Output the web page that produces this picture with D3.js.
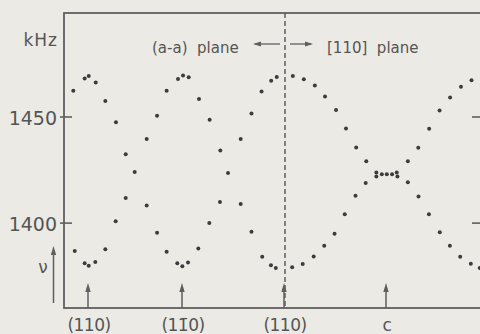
<!DOCTYPE html>
<html>
<head>
<meta charset="utf-8">
<script src="https://cdn.jsdelivr.net/npm/d3@7"></script>
<style>
  body { margin: 0; background: #ebeae5; }
  svg { display: block; font-family: "DejaVu Sans", sans-serif; }
  .lbl { fill: #555; }
</style>
</head>
<body>
<svg id="chart"></svg>
<script>
// rotation angle (deg) and NMR frequency (kHz)
var upperAngle = [-14.1,-3.2,0.7,7.4,16.6,26.8,36.1,44.7,56.2,66.1,75.3,86.2,90.9,95.9,105,114.4,123.8,130.6,141.8,151.3,160.2,168.7,173.6,
                  187.8,197.5,207.2,216.2,225.9,234.7,243.7,252.6,261.5,261.5,266.3,270.7,275.3,279.4,280.0,289.1,298.2,307.7,316.8,326,335.5,344.7];
var upperKHz = [1462.4,1468.1,1469.3,1466.2,1457.5,1447.5,1432.5,1424.1,1439.6,1450.6,1462.4,1467.9,1469.6,1468.7,1458.5,1448.7,1434.2,1423.6,1439.6,1451.6,1462.0,1467.1,1468.9,
                1469.3,1467.8,1464.8,1459.7,1453.3,1444.6,1435.6,1429.2,1423.9,1422.0,1423.0,1423.0,1423.0,1423.9,1422.0,1429.2,1435.5,1444.5,1453.1,1459.2,1464.2,1467.3];

var lowerAngle = [-12.7,-3.2,0.7,7.0,16.6,26.5,36.1,56.2,66.1,75.3,85.5,90.3,95.3,104.4,114.1,123.5,141.8,151.3,160.8,168.5,172.8,
                  187.2,196.5,206.2,215.5,224.6,233.6,243.1,252.1,289.1,298.4,307.5,317.0,325.8,334.8,344.1,351.9];
var lowerKHz = [1386.9,1381.1,1379.9,1381.7,1387.7,1400.9,1411.8,1408.3,1395.4,1386.5,1381.1,1379.7,1381.4,1388.0,1400.0,1410.0,1409.0,1395.9,1384.2,1380.1,1378.8,
                1379.2,1380.7,1384.3,1389.3,1395.0,1404.2,1412.9,1418.9,1419.2,1412.5,1404.2,1395.7,1389.3,1384.2,1380.8,1378.8];

var markerAngles = [0, 90, 180, 270];
var markerLabels = ["(110)", "(11\u03040)", "(110)", "c"];
var yTicks = [1400, 1450];
var planeBoundary = 180;

var W = 480, H = 334;
var margins = {left: 64, right: -1, top: 13, bottom: 26};

var svg = d3.select("#chart").attr("width", W).attr("height", H);

// the hand-drawn angle axis is not quite uniform, so calibrate it piecewise on the orientation arrows
var xScale = d3.scaleLinear()
    .domain([-23, 0, 90, 180, 270, 353])
    .range([margins.left, 88, 182, 284, 386, W - margins.right]);

var yScale = d3.scaleLinear()
    .domain([1360, 1499])
    .range([H - margins.bottom, margins.top]);

var ink = "#5f5f5f";
var x0 = margins.left, x1 = W - margins.right, y0 = margins.top, y1 = H - margins.bottom;

// frame
svg.append("rect")
    .attr("x", x0).attr("y", y0)
    .attr("width", x1 - x0).attr("height", y1 - y0)
    .attr("fill", "none").attr("stroke", ink).attr("stroke-width", 1.8);

// ticks, left (crossing) and right (inward)
svg.selectAll(".ltick").data(yTicks).enter().append("line")
    .attr("x1", x0 - 4).attr("x2", x0 + 8)
    .attr("y1", function(d) { return yScale(d); })
    .attr("y2", function(d) { return yScale(d); })
    .attr("stroke", ink).attr("stroke-width", 1.6);
svg.selectAll(".rtick").data(yTicks).enter().append("line")
    .attr("x1", x1 - 9).attr("x2", x1)
    .attr("y1", function(d) { return yScale(d); })
    .attr("y2", function(d) { return yScale(d); })
    .attr("stroke", ink).attr("stroke-width", 1.6);

svg.selectAll(".tlabel").data(yTicks).enter().append("text")
    .attr("class", "lbl")
    .attr("x", x0 - 7)
    .attr("y", function(d) { return yScale(d) + 8; })
    .attr("text-anchor", "end")
    .attr("font-size", 19)
    .text(function(d) { return d; });

svg.append("text").attr("class", "lbl")
    .attr("x", x0 - 6).attr("y", 46)
    .attr("text-anchor", "end").attr("font-size", 17)
    .attr("letter-spacing", 1)
    .text("kHz");

// nu with upward arrow
svg.append("text").attr("class", "lbl")
    .attr("x", 43).attr("y", 273)
    .attr("text-anchor", "middle").attr("font-size", 17)
    .text("\u03bd");
svg.append("line")
    .attr("x1", 53.5).attr("x2", 53.5).attr("y1", 303).attr("y2", 250)
    .attr("stroke", ink).attr("stroke-width", 1.5);
svg.append("path")
    .attr("d", "M53.5,246 L50.8,255 L56.2,255 Z")
    .attr("fill", ink);

// dashed plane boundary
svg.append("line")
    .attr("x1", xScale(planeBoundary) + 1).attr("x2", xScale(planeBoundary) + 1)
    .attr("y1", y0).attr("y2", y1)
    .attr("stroke", ink).attr("stroke-width", 1.5)
    .attr("stroke-dasharray", "5,3");

// orientation arrows along the bottom
var arrows = svg.selectAll(".marker").data(markerAngles).enter().append("g")
    .attr("transform", function(d) { return "translate(" + xScale(d) + ",0)"; });
arrows.append("line")
    .attr("x1", 0).attr("x2", 0).attr("y1", y1).attr("y2", y1 - 20)
    .attr("stroke", ink).attr("stroke-width", 1.5);
arrows.append("path")
    .attr("d", "M0," + (y1 - 25) + " L-2.7," + (y1 - 16) + " L2.7," + (y1 - 16) + " Z")
    .attr("fill", ink);
arrows.append("text").attr("class", "lbl")
    .attr("x", 1).attr("y", 331)
    .attr("text-anchor", "middle").attr("font-size", 17)
    .attr("letter-spacing", -0.5)
    .text(function(d, i) { return markerLabels[i]; });

// plane captions
svg.append("text").attr("class", "lbl")
    .attr("x", 152).attr("y", 52.5).attr("font-size", 15)
    .attr("xml:space", "preserve")
    .text("(a-a)  plane");
svg.append("text").attr("class", "lbl")
    .attr("x", 327).attr("y", 52.5).attr("font-size", 15)
    .attr("xml:space", "preserve")
    .text("[110]  plane");

// <- | -> around the boundary
var bx = xScale(planeBoundary) + 1;
svg.append("line").attr("x1", bx - 30).attr("x2", bx - 5).attr("y1", 44).attr("y2", 44)
    .attr("stroke", ink).attr("stroke-width", 1.3);
svg.append("path").attr("d", "M" + (bx - 32) + ",44 L" + (bx - 24) + ",41.5 L" + (bx - 24) + ",46.5 Z").attr("fill", ink);
svg.append("line").attr("x1", bx + 5).attr("x2", bx + 26).attr("y1", 44).attr("y2", 44)
    .attr("stroke", ink).attr("stroke-width", 1.3);
svg.append("path").attr("d", "M" + (bx + 28) + ",44 L" + (bx + 20) + ",41.5 L" + (bx + 20) + ",46.5 Z").attr("fill", ink);

// data points
var drawDots = function(angles, values, target)
{
    var pts = angles.map(function(a, i) { return {a: a, v: values[i]}; });
    target.selectAll(null)
        .data(pts)
        .enter()
        .append("circle")
        .attr("cx", function(d) { return xScale(d.a); })
        .attr("cy", function(d) { return yScale(d.v); })
        .attr("r", 2)
        .attr("fill", "#3c3c3c");
};
var dots = svg.append("g");
drawDots(upperAngle, upperKHz, dots);
drawDots(lowerAngle, lowerKHz, dots);
</script>
</body>
</html>
